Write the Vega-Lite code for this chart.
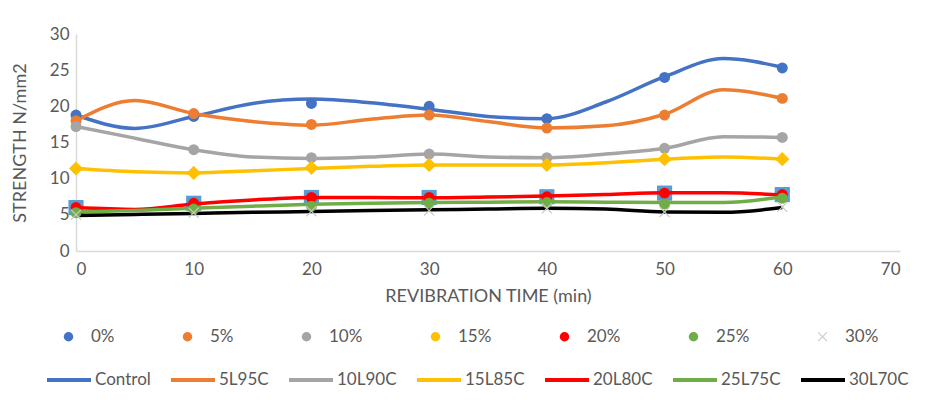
{
  "$schema": "https://vega.github.io/schema/vega-lite/v6.json",
  "width": 824,
  "height": 217,
  "autosize": {"type": "none"},
  "padding": {"left": 76, "top": 34, "right": 28, "bottom": 149},
  "background": "white",
  "config": {
    "view": {"stroke": null},
    "font": "Lato",
    "axis": {"labelFont": "Lato", "titleFont": "Lato", "labelColor": "#595959", "titleColor": "#595959", "labelFontSize": 17, "titleFontSize": 18, "titleFontWeight": "normal", "grid": false, "ticks": false, "domainColor": "#D9D9D9", "domainWidth": 1.5},
    "legend": {"labelFont": "Lato", "labelFontSize": 17, "labelColor": "#595959"}
  },
  "datasets": {
    "pts": [
      {"pct": "0%", "t": 0, "s": 18.8}, {"pct": "0%", "t": 10, "s": 18.6}, {"pct": "0%", "t": 20, "s": 20.4}, {"pct": "0%", "t": 30, "s": 20.0}, {"pct": "0%", "t": 40, "s": 18.3}, {"pct": "0%", "t": 50, "s": 24.0}, {"pct": "0%", "t": 60, "s": 25.3},
      {"pct": "5%", "t": 0, "s": 18.0}, {"pct": "5%", "t": 10, "s": 19.0}, {"pct": "5%", "t": 20, "s": 17.5}, {"pct": "5%", "t": 30, "s": 18.8}, {"pct": "5%", "t": 40, "s": 17.0}, {"pct": "5%", "t": 50, "s": 18.8}, {"pct": "5%", "t": 60, "s": 21.1},
      {"pct": "10%", "t": 0, "s": 17.2}, {"pct": "10%", "t": 10, "s": 14.0}, {"pct": "10%", "t": 20, "s": 12.9}, {"pct": "10%", "t": 30, "s": 13.4}, {"pct": "10%", "t": 40, "s": 12.9}, {"pct": "10%", "t": 50, "s": 14.2}, {"pct": "10%", "t": 60, "s": 15.7},
      {"pct": "15%", "t": 0, "s": 11.4}, {"pct": "15%", "t": 10, "s": 10.8}, {"pct": "15%", "t": 20, "s": 11.5}, {"pct": "15%", "t": 30, "s": 11.9}, {"pct": "15%", "t": 40, "s": 11.9}, {"pct": "15%", "t": 50, "s": 12.7}, {"pct": "15%", "t": 60, "s": 12.7},
      {"pct": "20%", "t": 0, "s": 6.0}, {"pct": "20%", "t": 10, "s": 6.6}, {"pct": "20%", "t": 20, "s": 7.4}, {"pct": "20%", "t": 30, "s": 7.4}, {"pct": "20%", "t": 40, "s": 7.5}, {"pct": "20%", "t": 50, "s": 8.0}, {"pct": "20%", "t": 60, "s": 7.8},
      {"pct": "25%", "t": 0, "s": 5.3}, {"pct": "25%", "t": 10, "s": 5.8}, {"pct": "25%", "t": 20, "s": 6.2}, {"pct": "25%", "t": 30, "s": 6.6}, {"pct": "25%", "t": 40, "s": 6.7}, {"pct": "25%", "t": 50, "s": 6.5}, {"pct": "25%", "t": 60, "s": 7.3},
      {"pct": "30%", "t": 0, "s": 5.0}, {"pct": "30%", "t": 10, "s": 5.3}, {"pct": "30%", "t": 20, "s": 5.5}, {"pct": "30%", "t": 30, "s": 5.6}, {"pct": "30%", "t": 40, "s": 5.9}, {"pct": "30%", "t": 50, "s": 5.4}, {"pct": "30%", "t": 60, "s": 6.1}
    ],
    "lines": [
      {"mix": "Control", "t": 0, "s": 18.8}, {"mix": "Control", "t": 5, "s": 16.95}, {"mix": "Control", "t": 10, "s": 18.6}, {"mix": "Control", "t": 15, "s": 20.4}, {"mix": "Control", "t": 20, "s": 21.0}, {"mix": "Control", "t": 25, "s": 20.5}, {"mix": "Control", "t": 30, "s": 19.6}, {"mix": "Control", "t": 35, "s": 18.6}, {"mix": "Control", "t": 40, "s": 18.3}, {"mix": "Control", "t": 45, "s": 20.6}, {"mix": "Control", "t": 50, "s": 24.1}, {"mix": "Control", "t": 55, "s": 26.6}, {"mix": "Control", "t": 60, "s": 25.4},
      {"mix": "5L95C", "t": 0, "s": 18.0}, {"mix": "5L95C", "t": 5, "s": 20.8}, {"mix": "5L95C", "t": 10, "s": 19.0}, {"mix": "5L95C", "t": 15, "s": 17.9}, {"mix": "5L95C", "t": 20, "s": 17.4}, {"mix": "5L95C", "t": 25, "s": 18.2}, {"mix": "5L95C", "t": 30, "s": 18.8}, {"mix": "5L95C", "t": 35, "s": 17.9}, {"mix": "5L95C", "t": 40, "s": 17.0}, {"mix": "5L95C", "t": 45, "s": 17.3}, {"mix": "5L95C", "t": 50, "s": 18.9}, {"mix": "5L95C", "t": 55, "s": 22.3}, {"mix": "5L95C", "t": 60, "s": 21.1},
      {"mix": "10L90C", "t": 0, "s": 17.2}, {"mix": "10L90C", "t": 5, "s": 15.6}, {"mix": "10L90C", "t": 10, "s": 14.0}, {"mix": "10L90C", "t": 15, "s": 13.0}, {"mix": "10L90C", "t": 20, "s": 12.8}, {"mix": "10L90C", "t": 25, "s": 13.0}, {"mix": "10L90C", "t": 30, "s": 13.4}, {"mix": "10L90C", "t": 35, "s": 13.0}, {"mix": "10L90C", "t": 40, "s": 12.9}, {"mix": "10L90C", "t": 45, "s": 13.4}, {"mix": "10L90C", "t": 50, "s": 14.2}, {"mix": "10L90C", "t": 55, "s": 15.8}, {"mix": "10L90C", "t": 60, "s": 15.7},
      {"mix": "15L85C", "t": 0, "s": 11.4}, {"mix": "15L85C", "t": 5, "s": 10.95}, {"mix": "15L85C", "t": 10, "s": 10.8}, {"mix": "15L85C", "t": 15, "s": 11.1}, {"mix": "15L85C", "t": 20, "s": 11.4}, {"mix": "15L85C", "t": 25, "s": 11.7}, {"mix": "15L85C", "t": 30, "s": 11.9}, {"mix": "15L85C", "t": 35, "s": 11.9}, {"mix": "15L85C", "t": 40, "s": 11.9}, {"mix": "15L85C", "t": 45, "s": 12.2}, {"mix": "15L85C", "t": 50, "s": 12.7}, {"mix": "15L85C", "t": 55, "s": 13.0}, {"mix": "15L85C", "t": 60, "s": 12.7},
      {"mix": "20L80C", "t": 0, "s": 6.0}, {"mix": "20L80C", "t": 5, "s": 5.75}, {"mix": "20L80C", "t": 10, "s": 6.5}, {"mix": "20L80C", "t": 15, "s": 7.05}, {"mix": "20L80C", "t": 20, "s": 7.4}, {"mix": "20L80C", "t": 25, "s": 7.4}, {"mix": "20L80C", "t": 30, "s": 7.35}, {"mix": "20L80C", "t": 35, "s": 7.45}, {"mix": "20L80C", "t": 40, "s": 7.6}, {"mix": "20L80C", "t": 45, "s": 7.8}, {"mix": "20L80C", "t": 50, "s": 8.05}, {"mix": "20L80C", "t": 55, "s": 8.05}, {"mix": "20L80C", "t": 60, "s": 7.75},
      {"mix": "25L75C", "t": 0, "s": 5.4}, {"mix": "25L75C", "t": 5, "s": 5.6}, {"mix": "25L75C", "t": 10, "s": 5.9}, {"mix": "25L75C", "t": 15, "s": 6.2}, {"mix": "25L75C", "t": 20, "s": 6.45}, {"mix": "25L75C", "t": 25, "s": 6.6}, {"mix": "25L75C", "t": 30, "s": 6.7}, {"mix": "25L75C", "t": 35, "s": 6.75}, {"mix": "25L75C", "t": 40, "s": 6.8}, {"mix": "25L75C", "t": 45, "s": 6.75}, {"mix": "25L75C", "t": 50, "s": 6.7}, {"mix": "25L75C", "t": 55, "s": 6.7}, {"mix": "25L75C", "t": 60, "s": 7.5},
      {"mix": "30L70C", "t": 0, "s": 4.9}, {"mix": "30L70C", "t": 5, "s": 5.05}, {"mix": "30L70C", "t": 10, "s": 5.2}, {"mix": "30L70C", "t": 15, "s": 5.35}, {"mix": "30L70C", "t": 20, "s": 5.45}, {"mix": "30L70C", "t": 25, "s": 5.6}, {"mix": "30L70C", "t": 30, "s": 5.7}, {"mix": "30L70C", "t": 35, "s": 5.8}, {"mix": "30L70C", "t": 40, "s": 5.9}, {"mix": "30L70C", "t": 45, "s": 5.8}, {"mix": "30L70C", "t": 50, "s": 5.4}, {"mix": "30L70C", "t": 55, "s": 5.35}, {"mix": "30L70C", "t": 60, "s": 6.0}
    ]
  },
  "encoding": {
    "x": {"field": "t", "type": "quantitative", "scale": {"domain": [0, 70], "nice": false, "zero": false},
      "axis": {"values": [0, 10, 20, 30, 40, 50, 60, 70], "title": "REVIBRATION TIME (min)", "labelPadding": 10, "titlePadding": 10}},
    "y": {"field": "s", "type": "quantitative", "scale": {"domain": [0, 30], "nice": false},
      "axis": {"values": [0, 5, 10, 15, 20, 25, 30], "title": "STRENGTH N/mm2", "labelPadding": 7, "titlePadding": 20}}
  },
  "layer": [
    {
      "data": {"name": "pts"},
      "transform": [{"filter": "datum.pct === '20%'"}],
      "mark": {"type": "point", "shape": "square", "filled": true, "size": 230, "color": "#5B9BD5", "opacity": 1}
    },
    {
      "data": {"name": "lines"},
      "mark": {"type": "line", "interpolate": "monotone", "strokeWidth": 3.5},
      "encoding": {
        "color": {"field": "mix", "type": "nominal", "sort": null,
          "scale": {"domain": ["Control", "5L95C", "10L90C", "15L85C", "20L80C", "25L75C", "30L70C"], "range": ["#4472C4", "#ED7D31", "#A5A5A5", "#FFC000", "#FF0000", "#70AD47", "#000000"]},
          "legend": {"title": null, "orient": "none", "direction": "horizontal", "columns": 7, "legendX": -31, "legendY": 322, "symbolType": "stroke", "symbolSize": 1936, "symbolStrokeWidth": 4, "labelOffset": 2, "columnPadding": 12}}
      }
    },
    {
      "data": {"name": "pts"},
      "transform": [{"filter": "datum.pct !== '15%'"}],
      "mark": {"type": "point", "filled": true, "size": 120, "opacity": 1},
      "encoding": {
        "color": {"field": "pct", "type": "nominal", "sort": null,
          "scale": {"domain": ["0%", "5%", "10%", "15%", "20%", "25%", "30%"], "range": ["#4472C4", "#ED7D31", "#A5A5A5", "#FFC000", "#FF0000", "#70AD47", "#C8C8C8"]},
          "legend": {"title": null, "orient": "none", "direction": "horizontal", "columns": 7, "legendX": -16, "legendY": 294, "symbolSize": 90, "labelOffset": 14, "columnPadding": 64}},
        "shape": {"field": "pct", "type": "nominal", "sort": null,
          "scale": {"domain": ["0%", "5%", "10%", "15%", "20%", "25%", "30%"], "range": ["circle", "circle", "circle", "circle", "circle", "circle", "M-0.85,-1L0,-0.15L0.85,-1L1,-0.85L0.15,0L1,0.85L0.85,1L0,0.15L-0.85,1L-1,0.85L-0.15,0L-1,-0.85Z"]},
          "legend": {"title": null, "orient": "none", "direction": "horizontal", "columns": 7, "legendX": -16, "legendY": 294, "symbolSize": 90, "labelOffset": 14, "columnPadding": 64}}
      }
    },
    {
      "data": {"name": "pts"},
      "transform": [{"filter": "datum.pct === '15%'"}],
      "mark": {"type": "point", "shape": "diamond", "filled": true, "size": 200, "color": "#FFC000", "opacity": 1}
    }
  ],
  "resolve": {"scale": {"color": "independent", "shape": "independent"}}
}
